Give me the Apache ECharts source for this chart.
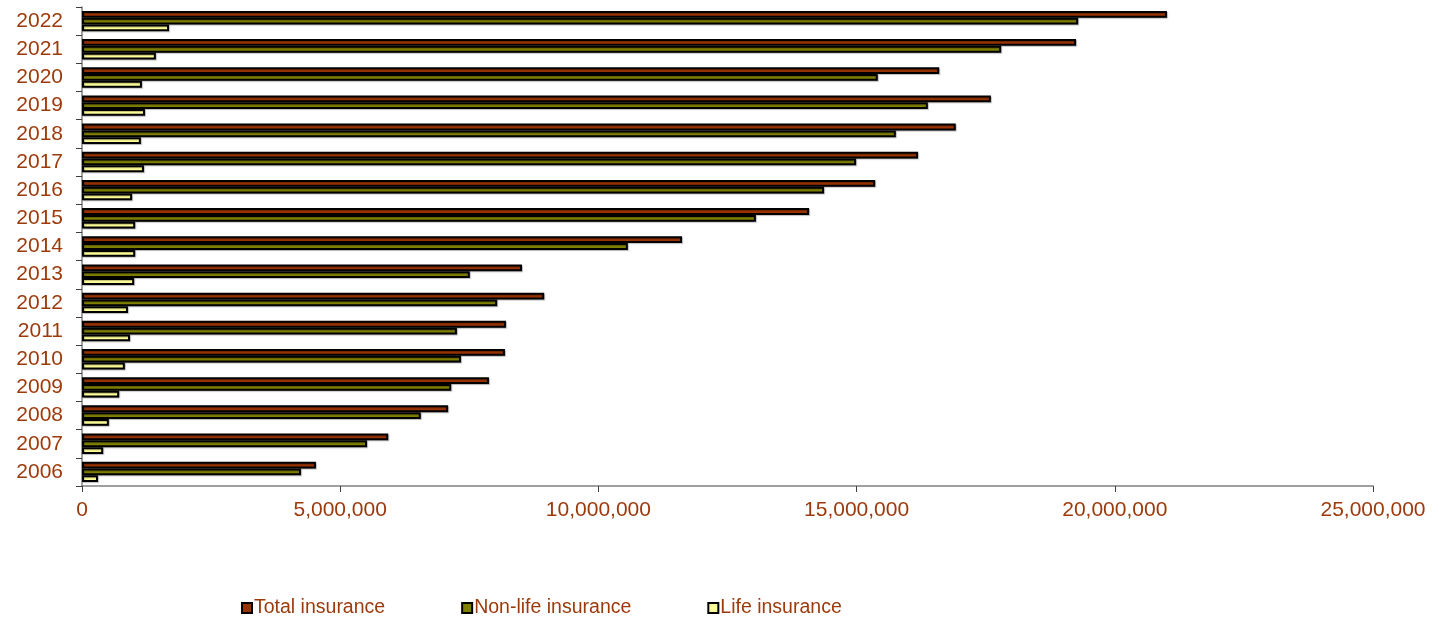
<!DOCTYPE html>
<html>
<head>
<meta charset="utf-8">
<script src="https://cdn.jsdelivr.net/npm/echarts@6/dist/echarts.min.js"></script>
<style>
html,body{margin:0;padding:0;background:#fff;}
#chart{width:1433px;height:617px;}
</style>
</head>
<body>
<div id="chart"></div>
<script>
var years = ['2006','2007','2008','2009','2010','2011','2012','2013','2014','2015','2016','2017','2018','2019','2020','2021','2022'];
var totalInsurance = [4530000,5930000,7090000,7880000,8190000,8210000,8950000,8520000,11620000,14080000,15360000,16190000,16920000,17600000,16600000,19250000,21010000];
var nonLifeInsurance = [4240000,5520000,6560000,7150000,7340000,7260000,8040000,7510000,10570000,13050000,14370000,14990000,15760000,16380000,15410000,17800000,19290000];
var lifeInsurance = [310000,410000,520000,720000,830000,930000,890000,1010000,1030000,1030000,970000,1200000,1140000,1220000,1160000,1430000,1685000];
var seriesNames = ['Total insurance','Non-life insurance','Life insurance'];
var xTicks = {min:0, max:25000000, interval:5000000};

var textColor = '#9C3A0C';
var font = 'Liberation Sans, Arial, sans-serif';
function mk(name, data, color){
  return {
    name: name, type: 'bar', data: data, barWidth: 6.8, barGap: '0%',
    itemStyle: {color: color, borderColor: '#000', borderWidth: 2,
      shadowColor: 'rgba(0,0,0,0.25)', shadowBlur: 1, shadowOffsetX: 1, shadowOffsetY: 1}
  };
}
var chart = echarts.init(document.getElementById('chart'), null, {renderer:'canvas'});
chart.setOption({
  animation: false,
  backgroundColor: '#fff',
  grid: {left: 82, right: 60, top: 7, bottom: 131, containLabel: false},
  legend: {
    data: seriesNames, left: 236, top: 593, icon: 'rect', itemWidth: 10, itemHeight: 10,
    itemGap: 76,
    textStyle: {color: textColor, fontSize: 19.5, fontFamily: font, padding: [0,0,0,-3]}
  },
  xAxis: {
    type: 'value', min: xTicks.min, max: xTicks.max, interval: xTicks.interval,
    axisLine: {show: true, lineStyle: {color: '#808080', width: 1.5}},
    axisTick: {show: true, length: 6, lineStyle: {color: '#404040'}},
    splitLine: {show: false},
    axisLabel: {color: textColor, fontSize: 21, fontFamily: font, margin: 14,
      formatter: function(v){ return v.toLocaleString('en-US'); }}
  },
  yAxis: {
    type: 'category', data: years,
    axisLine: {show: true, lineStyle: {color: '#808080', width: 1.5}},
    axisTick: {show: true, length: 6, lineStyle: {color: '#404040'}},
    axisLabel: {color: textColor, fontSize: 21, fontFamily: font, margin: 19, padding: [5,0,0,0]}
  },
  series: [
    mk(seriesNames[0], totalInsurance, '#993300'),
    mk(seriesNames[1], nonLifeInsurance, '#808000'),
    mk(seriesNames[2], lifeInsurance, '#FFFF99')
  ]
});
</script>
</body>
</html>
